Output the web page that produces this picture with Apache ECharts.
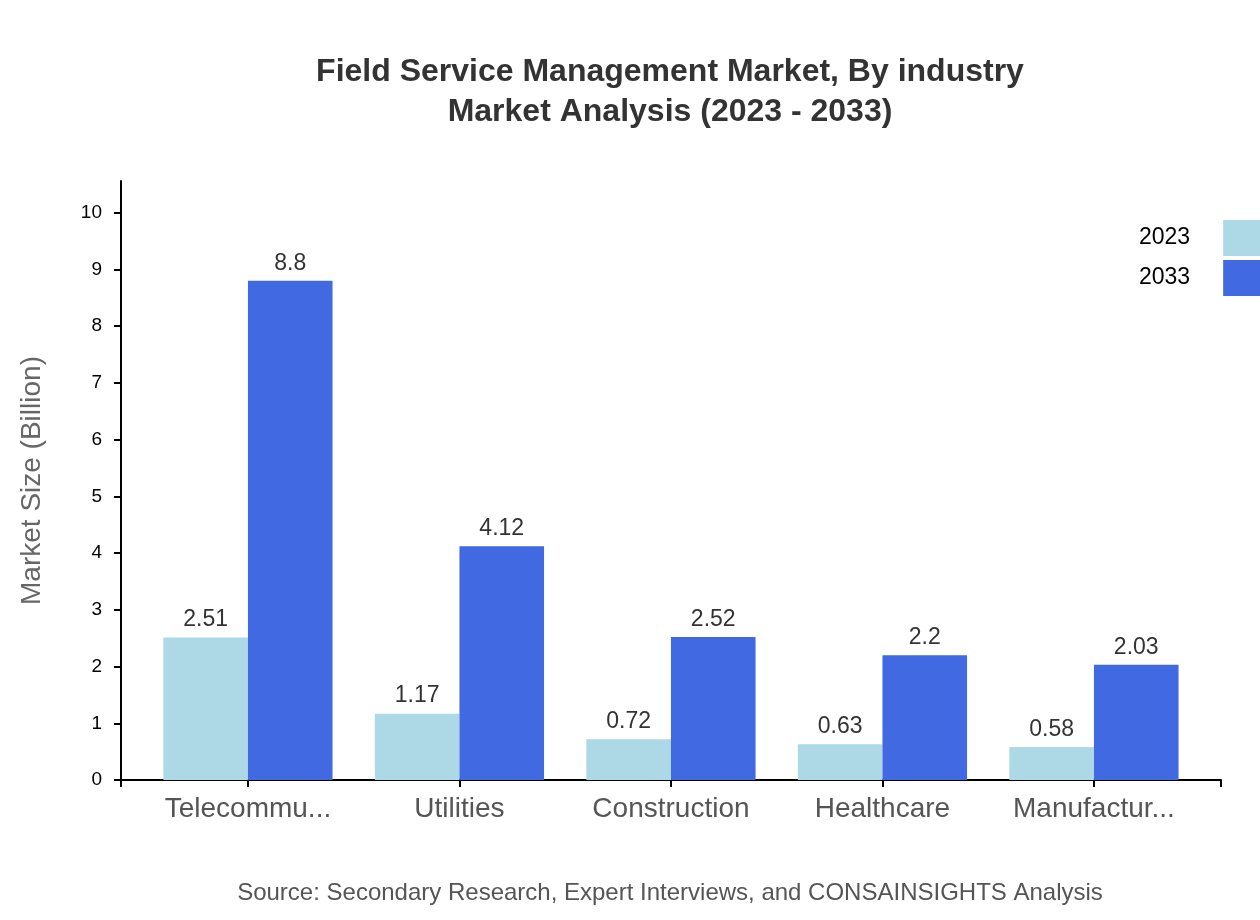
<!DOCTYPE html>
<html>
<head>
<meta charset="utf-8">
<script src="https://cdn.jsdelivr.net/npm/echarts@6/dist/echarts.min.js"></script>
<style>
  html, body { margin: 0; padding: 0; background: #fff; }
  #chart { width: 1260px; height: 920px; }
</style>
</head>
<body>
<div id="chart"></div>
<script>
var categories = ['Telecommu...', 'Utilities', 'Construction', 'Healthcare', 'Manufactur...'];
var values2023 = [2.51, 1.17, 0.72, 0.63, 0.58];
var values2033 = [8.8, 4.12, 2.52, 2.2, 2.03];
var yTicks = [0, 1, 2, 3, 4, 5, 6, 7, 8, 9, 10];

var font = 'Liberation Sans, Arial, sans-serif';
var yMax = 10.56;

var chart = echarts.init(document.getElementById('chart'), null, { renderer: 'canvas' });

var option = {
    animation: false,
    textStyle: { fontFamily: font },
    title: [{
        text: 'Field Service Management Market, By industry\nMarket Analysis (2023 - 2033)',
        left: 665,
        top: 47,
        textAlign: 'center',
        textStyle: { fontSize: 32, fontWeight: 'bold', color: '#333', lineHeight: 40, fontFamily: font }
    }, {
        text: 'Source: Secondary Research, Expert Interviews, and CONSAINSIGHTS Analysis',
        left: 665,
        top: 876,
        textAlign: 'center',
        textStyle: { fontSize: 24, fontWeight: 'normal', color: '#555', fontFamily: font }
    }],
    legend: {
        orient: 'vertical',
        left: 1139,
        top: 220,
        padding: 0,
        align: 'right',
        itemWidth: 44,
        itemHeight: 36,
        itemGap: 4,
        icon: 'rect',
        textStyle: { fontSize: 23, color: '#000', padding: [0, 28, 0, 0], fontFamily: font },
        data: ['2023', '2033']
    },
    grid: [
        { left: 121, right: 39, top: 181, bottom: 140 },
        { left: 142.2, width: 1057.5, top: 181, bottom: 140 }
    ],
    xAxis: [{
        type: 'value',
        gridIndex: 0,
        min: 0, max: 1, interval: 1,
        axisLine: { show: true, lineStyle: { color: '#000', width: 2 } },
        axisTick: { show: true, length: 7, lineStyle: { color: '#000', width: 2 } },
        axisLabel: { show: false },
        splitLine: { show: false }
    }, {
        type: 'category',
        gridIndex: 1,
        data: categories,
        axisLine: { show: false },
        axisTick: { show: true, interval: 0, alignWithLabel: true, length: 7, lineStyle: { color: '#000', width: 2 } },
        axisLabel: { interval: 0, hideOverlap: false, fontSize: 28, color: '#555', margin: 15, fontFamily: font }
    }],
    yAxis: [{
        type: 'value',
        gridIndex: 0,
        min: 0, max: yMax, interval: 1,
        name: 'Market Size (Billion)',
        nameLocation: 'middle',
        nameGap: 75,
        nameTextStyle: { fontSize: 28, color: '#666', fontFamily: font },
        axisLine: { show: true, lineStyle: { color: '#000', width: 2 } },
        axisTick: { show: true, length: 7, lineStyle: { color: '#000', width: 2 } },
        axisLabel: {
            fontSize: 19, color: '#000', margin: 19, showMaxLabel: false, fontFamily: font,
            formatter: function (v) { return yTicks.indexOf(v) >= 0 ? String(v) : ''; }
        },
        splitLine: { show: false }
    }, {
        type: 'value',
        gridIndex: 1,
        min: 0, max: yMax,
        show: false
    }],
    series: [{
        name: '2023',
        type: 'bar',
        xAxisIndex: 1,
        yAxisIndex: 1,
        data: values2023,
        barGap: '0%',
        barCategoryGap: '20%',
        itemStyle: { color: '#ADD8E6' },
        label: { show: true, position: 'top', distance: 6, fontSize: 23, color: '#333', fontFamily: font }
    }, {
        name: '2033',
        type: 'bar',
        xAxisIndex: 1,
        yAxisIndex: 1,
        data: values2033,
        barGap: '0%',
        barCategoryGap: '20%',
        itemStyle: { color: '#4169E1' },
        label: { show: true, position: 'top', distance: 6, fontSize: 23, color: '#333', fontFamily: font }
    }]
};

chart.setOption(option);
</script>
</body>
</html>
